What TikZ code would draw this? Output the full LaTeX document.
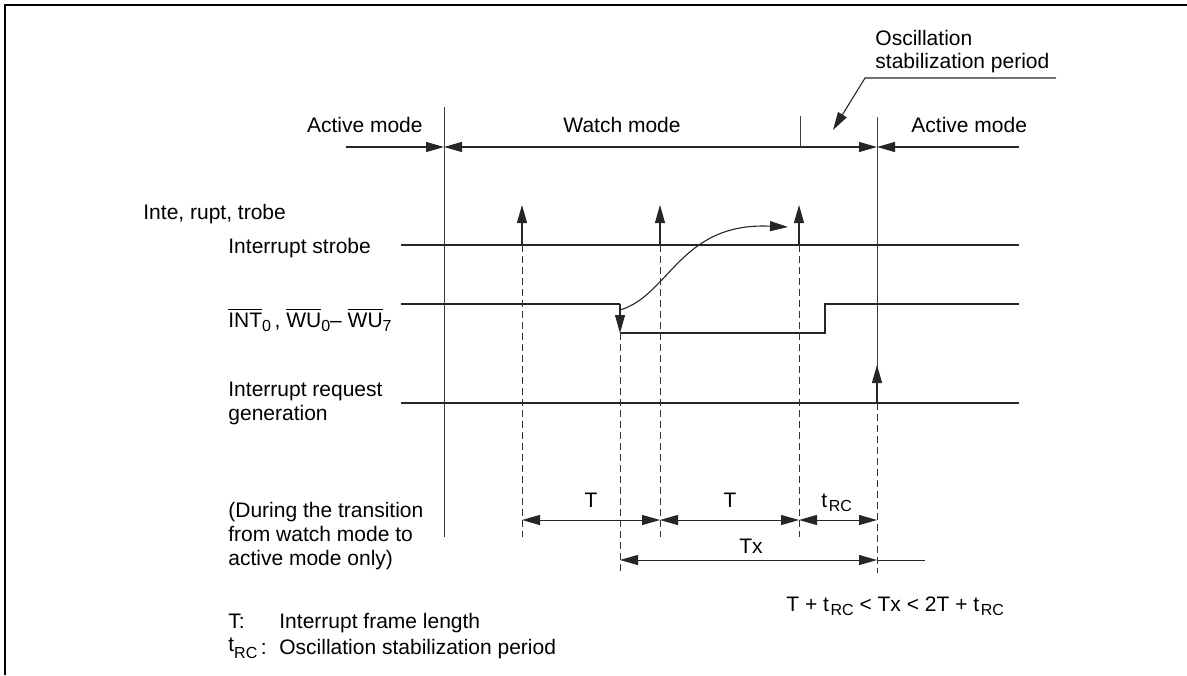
\documentclass[tikz,border=0pt]{standalone}
\usepackage{fontspec}
\setmainfont{Liberation Sans}
\usetikzlibrary{arrows.meta}
\newcommand\lsub[1]{\raisebox{-2pt}{\fontsize{8}{8}\selectfont #1}}
\begin{document}
\begin{tikzpicture}[x=0.5pt,y=-0.5pt,
  >={Triangle[length=9pt,width=5pt]},
  every node/.style={inner sep=0pt, font=\fontsize{10.5}{12}\selectfont},
  lbl/.style={anchor=base west},
  ctr/.style={anchor=base},
  sig/.style={line width=0.55pt, draw=black!85},
  vline/.style={line width=0.45pt, draw=black!75},
  dsh/.style={line width=0.5pt, dash pattern=on 3.5pt off 2pt, draw=black!80},
  dimline/.style={line width=0.5pt, draw=black!85},
  frame/.style={line width=0.6pt, draw=black},
]
\useasboundingbox (0,0) rectangle (1187,675);
% frame
\coordinate (fbl) at (5,675);
\coordinate (ftl) at (5,5);
\coordinate (ftr) at (1187,5);
\draw[frame] (fbl) -- (ftl) -- (ftr);

% key coordinates
\coordinate (v1t) at (444,107);
\coordinate (v1b) at (444,537);
\coordinate (v2t) at (877,117);
\coordinate (v2m) at (877,403);
\coordinate (v2a) at (877,365);
\coordinate (v2b) at (877,573);
\coordinate (m0) at (346,147);
\coordinate (m1) at (444,147);
\coordinate (m2) at (877,147);
\coordinate (m3) at (1019,147);
\coordinate (tk1) at (800,116);
\coordinate (tk2) at (800,147);

% mode lines
\draw[vline] (v1t) -- (v1b);
\draw[vline] (v2t) -- (v2m);
\draw[sig,->] (v2m) -- (v2a);
\draw[dsh] (v2m) -- (v2b);
\draw[sig,->] (m0) -- (m1);
\draw[sig,<->] (m1) -- (m2);
\draw[sig,<-] (m2) -- (m3);
\draw[vline] (tk1) -- (tk2);

% leader for oscillation stabilization period
\coordinate (ld0) at (1056,78);
\coordinate (ld1) at (865,78);
\coordinate (ld2) at (833,130);
\draw[sig,->] (ld0) -- (ld1) -- (ld2);

% signal lines
\coordinate (s0) at (401,245);
\coordinate (s1) at (1019,245);
\draw[sig] (s0) -- (s1);
\coordinate (w0) at (401,304);
\coordinate (w1) at (620,304);
\coordinate (w2) at (620,333);
\coordinate (w3) at (825,333);
\coordinate (w4) at (825,304);
\coordinate (w5) at (1019,304);
\draw[sig] (w0) -- (w1);
\draw[sig,->] (w1) -- (w2);
\draw[sig] (w2) -- (w3) -- (w4) -- (w5);
\coordinate (r0) at (401,403);
\coordinate (r1) at (1019,403);
\draw[sig] (r0) -- (r1);

% strobe arrows
\foreach \n/\x in {a/522,b/660,c/799}{
  \coordinate (st\n) at (\x,245);
  \coordinate (sh\n) at (\x,205);
  \coordinate (sd\n) at (\x,537);
  \draw[sig,->] (st\n) -- (sh\n);
  \draw[dsh] (st\n) -- (sd\n);
}
\coordinate (dx0) at (620,573);
\draw[dsh] (w2) -- (dx0);

% curve from falling edge to third strobe
\coordinate (c0) at (620,310);
\coordinate (c1) at (788,227);
\draw[sig,->] (c0) .. controls (670,295) and (680,222) .. (c1);

% dimension lines
\coordinate (d0) at (522,520);
\coordinate (d1) at (660,520);
\coordinate (d2) at (799,520);
\coordinate (d3) at (877,520);
\draw[dimline,<->] (d0) -- (d1);
\draw[dimline,<->] (d1) -- (d2);
\draw[dimline,<->] (d2) -- (d3);
\coordinate (x0) at (620,560);
\coordinate (x1) at (877,560);
\coordinate (x2) at (925,560);
\draw[dimline,<->] (x0) -- (x1);
\draw[dimline] (x1) -- (x2);

% texts
\node[anchor=base east] (am1) at (423,132) {Active mode};
\node[ctr] (wm) at (622,132) {Watch mode};
\node[lbl] (am2) at (911,132) {Active mode};
\node[lbl] (osc1) at (875,45) {Oscillation};
\node[lbl] (osc2) at (875,68) {stabilization period};
\node[lbl] (irs) at (143,219) {Inte, rupt, trobe};
\node[lbl] (is) at (228,253) {Interrupt strobe};
\node[lbl] (int) at (228,327) {$\overline{\mbox{INT}}$\lsub{0}\,, $\overline{\mbox{WU}}$\lsub{0}– $\overline{\mbox{WU}}$\lsub{7}};
\node[lbl] (irq1) at (228,396) {Interrupt request};
\node[lbl] (irq2) at (228,420) {generation};
\node[lbl] (dur1) at (228,517) {(During the transition};
\node[lbl] (dur2) at (228,541) {from watch mode to};
\node[lbl] (dur3) at (228,565) {active mode only)};
\node[ctr] (T1) at (591,507) {T};
\node[ctr] (T2) at (730,507) {T};
\node[lbl] (trc) at (821,507) {t\hspace{0.8pt}\lsub{RC}};
\node[ctr] (tx) at (751,553) {Tx};
\node[lbl] (form) at (786,611) {T + t\hspace{0.8pt}\lsub{RC} < Tx < 2T + t\hspace{0.8pt}\lsub{RC}};
\node[lbl] (tl) at (228,628) {T:};
\node[lbl] (tld) at (279,628) {Interrupt frame length};
\node[lbl] (rl) at (228,654) {\raisebox{1.5pt}{t}\lsub{RC}\,:};
\node[lbl] (rld) at (279,654) {Oscillation stabilization period};
\end{tikzpicture}
\end{document}
